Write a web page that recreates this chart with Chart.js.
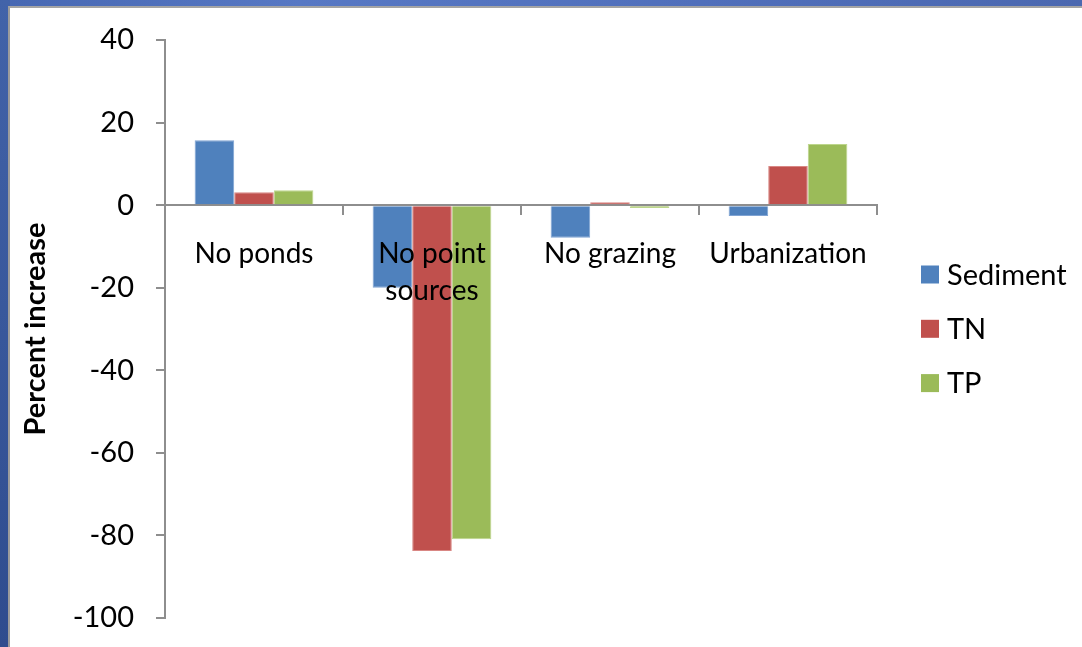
<!DOCTYPE html>
<html>
<head>
<meta charset="utf-8">
<title>Percent increase by scenario</title>
<script src="https://cdn.jsdelivr.net/npm/chart.js@4.4.1/dist/chart.umd.min.js"></script>
<style>
  html, body { margin: 0; padding: 0; }
  body {
    width: 1082px; height: 647px; overflow: hidden; position: relative;
    background: linear-gradient(90deg, #3a5aa0 0px, #4768b3 10px, #5778c4 300px, #506fbb 700px, #4b68b0 1082px);
  }
  .side {
    position: absolute; left: 0; top: 0; width: 10px; height: 647px;
    background: linear-gradient(180deg, #4263a9, #2f4c8e);
  }
  .panel {
    position: absolute; left: 8px; top: 6px; width: 1074px; height: 641px;
    background: #ffffff; border-left: 2px solid #9c9c9c; border-top: 2px solid #a4a4a4;
    box-sizing: border-box;
  }
  #wrap { position: absolute; left: 10px; top: 8px; width: 1072px; height: 639px; }
</style>
</head>
<body>
<div class="side"></div>
<div class="panel"></div>
<div id="wrap"><canvas id="chart" width="1072" height="639"></canvas></div>
<script>
// Scenario categories (multi-line label wraps like the axis text)
const categories = ['No ponds', ['No point', 'sources'], 'No grazing', 'Urbanization'];
const seriesNames = ['Sediment', 'TN', 'TP'];
const sediment = [15.7, -20.0, -7.9, -2.6];
const tn = [3.1, -83.8, 0.7, 9.5];
const tp = [3.6, -80.9, -0.7, 14.8];
const yTicks = [40, 20, 0, -20, -40, -60, -80, -100];

const colors = ['#4F81BD', '#C0504D', '#9BBB59'];
const edges = ['#7fa3d3', '#d98784', '#bdd68c'];
const FONT = 'Lato, Carlito, Calibri, "Liberation Sans", sans-serif';

// Legend on the right, drawn from the dataset labels and colours
const sideLegend = {
  id: 'sideLegend',
  afterDraw(chart) {
    const ctx = chart.ctx;
    ctx.save();
    ctx.font = '29px ' + FONT;
    ctx.textBaseline = 'middle';
    ctx.textAlign = 'left';
    chart.data.datasets.forEach((ds, i) => {
      const cy = 266.5 + i * 54.3;
      ctx.fillStyle = ds.backgroundColor;
      ctx.fillRect(911, cy - 9, 18, 18);
      ctx.fillStyle = '#000';
      ctx.fillText(ds.label, 937, cy + 1);
    });
    ctx.restore();
  }
};

new Chart(document.getElementById('chart'), {
  type: 'bar',
  data: {
    labels: categories,
    datasets: [sediment, tn, tp].map((vals, i) => ({
      label: seriesNames[i],
      data: vals,
      backgroundColor: colors[i],
      borderColor: edges[i],
      borderWidth: 1,
      categoryPercentage: 0.667,
      barPercentage: 1.0
    }))
  },
  options: {
    responsive: false,
    animation: false,
    devicePixelRatio: 1,
    layout: { padding: { left: 0, top: 32, right: 205, bottom: 29 } },
    plugins: { legend: { display: false }, tooltip: { enabled: false } },
    scales: {
      x: {
        position: { y: 0 },
        offset: true,
        grid: { display: true, drawOnChartArea: false, drawTicks: true, tickLength: 9, offset: true, color: '#8e8e8e', lineWidth: 2 },
        border: { display: true, color: '#8e8e8e', width: 2 },
        ticks: {
          z: 1,
          color: '#000',
          padding: 21,
          maxRotation: 0,
          autoSkip: false,
          font: { family: FONT, size: 28, lineHeight: 1.34 }
        }
      },
      y: {
        min: -100,
        max: 40,
        afterFit(scale) {
          scale.width = 155;
          scale.paddingTop = 0;
          scale.paddingBottom = 0;
        },
        afterBuildTicks(scale) { scale.ticks = yTicks.map(v => ({ value: v })); },
        grid: { display: true, drawOnChartArea: false, drawTicks: true, tickLength: 9, color: '#8e8e8e', lineWidth: 2 },
        border: { display: true, color: '#8e8e8e', width: 2 },
        ticks: {
          color: '#000',
          padding: 22,
          font: { family: FONT, size: 29 }
        },
        title: {
          display: true,
          text: 'Percent increase',
          color: '#000',
          padding: { top: 8, bottom: 0 },
          font: { family: FONT, size: 29, weight: 'bold' }
        }
      }
    }
  },
  plugins: [sideLegend]
});
</script>
</body>
</html>
